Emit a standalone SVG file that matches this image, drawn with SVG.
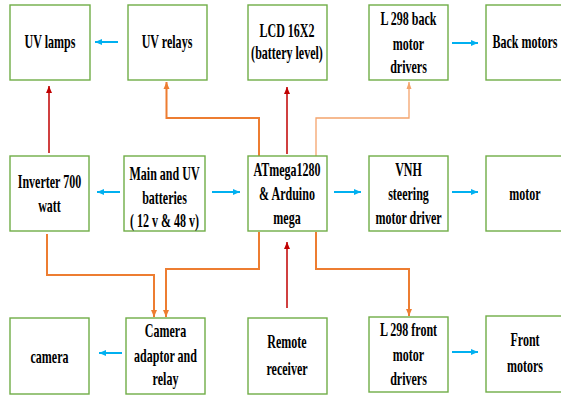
<svg xmlns="http://www.w3.org/2000/svg" width="561" height="396" viewBox="0 0 561 396">
<style>
.b{fill:#fff;stroke:#70ad47;stroke-width:1.4}
.t{font-family:"Liberation Serif","Times New Roman",serif;font-weight:bold;font-size:18.5px;fill:#000;text-anchor:middle}
.bl{stroke:#00b0f0;stroke-width:2;fill:none}
.rd{stroke:#c00000;stroke-width:1.5;fill:none}
.or{stroke:#ed7d31;stroke-width:2;fill:none}
.ol{stroke:#f4a46c;stroke-width:1.3;fill:none}
</style>
<defs>
<marker id="ab" markerUnits="userSpaceOnUse" markerWidth="8" markerHeight="8" refX="7" refY="4" orient="auto"><path d="M0,1 L7,4 L0,7 Z" fill="#00b0f0"/></marker>
<marker id="ar" markerUnits="userSpaceOnUse" markerWidth="8" markerHeight="8" refX="7" refY="4" orient="auto"><path d="M0,1 L7,4 L0,7 Z" fill="#c00000"/></marker>
<marker id="ao" markerUnits="userSpaceOnUse" markerWidth="8" markerHeight="8" refX="7" refY="4" orient="auto"><path d="M0,1 L7,4 L0,7 Z" fill="#ed7d31"/></marker>
<marker id="al" markerUnits="userSpaceOnUse" markerWidth="8" markerHeight="8" refX="7" refY="4" orient="auto"><path d="M0,1.5 L7,4 L0,6.5 Z" fill="#f4a46c"/></marker>
</defs>
<rect width="561" height="396" fill="#fff"/>
<g id="connectors">
<path class="bl" d="M118,42 H95" marker-end="url(#ab)"/>
<path class="bl" d="M452,43 H478" marker-end="url(#ab)"/>
<path class="bl" d="M120,192 H97" marker-end="url(#ab)"/>
<path class="bl" d="M212,192 H240" marker-end="url(#ab)"/>
<path class="bl" d="M334,192 H361" marker-end="url(#ab)"/>
<path class="bl" d="M452,192 H478" marker-end="url(#ab)"/>
<path class="bl" d="M122,353 H99" marker-end="url(#ab)"/>
<path class="bl" d="M452,352 H478" marker-end="url(#ab)"/>
<path class="rd" d="M49,153 V86" marker-end="url(#ar)"/>
<path class="rd" d="M287,154 V87" marker-end="url(#ar)"/>
<path class="rd" d="M287,308 V242" marker-end="url(#ar)"/>
<path class="or" d="M259,156 V118 H166.5 V82" marker-end="url(#ao)"/>
<path class="ol" d="M316,156 V118 H409 V82" marker-end="url(#al)"/>
<path class="or" d="M47,234 V275 H154 V317" marker-end="url(#ao)"/>
<path class="or" d="M259,232 V269 H166 V317" marker-end="url(#ao)"/>
<path class="or" d="M316,232 V269 H409 V316" marker-end="url(#ao)"/>
</g>
<g id="uv-lamps"><rect class="b" x="10" y="5" width="80" height="75"/><text class="t" transform="translate(50,0) scale(.65,1)"><tspan x="0" y="48">UV lamps</tspan></text></g>
<g id="uv-relays"><rect class="b" x="128" y="5" width="79" height="75"/><text class="t" transform="translate(167,0) scale(.65,1)"><tspan x="0" y="48">UV relays</tspan></text></g>
<g id="lcd"><rect class="b" x="248" y="5" width="79" height="75"/><text class="t" transform="translate(287,0) scale(.65,1)"><tspan x="0" y="37">LCD 16X2</tspan><tspan x="0" y="59">(battery level)</tspan></text></g>
<g id="l298-back"><rect class="b" x="369" y="5" width="79" height="75"/><text class="t" transform="translate(408.5,0) scale(.65,1)"><tspan x="0" y="25">L 298 back</tspan><tspan x="0" y="50">motor</tspan><tspan x="0" y="73">drivers</tspan></text></g>
<g id="back-motors"><rect class="b" x="486" y="5" width="80" height="75"/><text class="t" transform="translate(525,0) scale(.65,1)"><tspan x="0" y="48">Back motors</tspan></text></g>
<g id="inverter"><rect class="b" x="10" y="156" width="79" height="75"/><text class="t" transform="translate(49.5,0) scale(.65,1)"><tspan x="0" y="188">Inverter 700</tspan><tspan x="0" y="212">watt</tspan></text></g>
<g id="batteries"><rect class="b" x="124" y="156" width="81" height="75"/><text class="t" transform="translate(164.5,0) scale(.65,1)"><tspan x="0" y="180">Main and UV</tspan><tspan x="0" y="204">batteries</tspan><tspan x="0" y="227">( 12 v &amp; 48 v)</tspan></text></g>
<g id="atmega"><rect class="b" x="248" y="156" width="79" height="75"/><text class="t" transform="translate(287,0) scale(.65,1)"><tspan x="0" y="176">ATmega1280</tspan><tspan x="0" y="200">&amp; Arduino</tspan><tspan x="0" y="224">mega</tspan></text></g>
<g id="vnh"><rect class="b" x="369" y="156" width="79" height="75"/><text class="t" transform="translate(408.5,0) scale(.65,1)"><tspan x="0" y="176">VNH</tspan><tspan x="0" y="200">steering</tspan><tspan x="0" y="224">motor driver</tspan></text></g>
<g id="motor"><rect class="b" x="486" y="156" width="80" height="75"/><text class="t" transform="translate(525,0) scale(.65,1)"><tspan x="0" y="200">motor</tspan></text></g>
<g id="camera"><rect class="b" x="10" y="318" width="79" height="76"/><text class="t" transform="translate(49.5,0) scale(.65,1)"><tspan x="0" y="363">camera</tspan></text></g>
<g id="camera-adaptor"><rect class="b" x="126" y="318" width="79" height="76"/><text class="t" transform="translate(165.5,0) scale(.65,1)"><tspan x="0" y="337">Camera</tspan><tspan x="0" y="362">adaptor and</tspan><tspan x="0" y="385">relay</tspan></text></g>
<g id="remote"><rect class="b" x="248" y="318" width="79" height="76"/><text class="t" transform="translate(287,0) scale(.65,1)"><tspan x="0" y="348">Remote</tspan><tspan x="0" y="375">receiver</tspan></text></g>
<g id="l298-front"><rect class="b" x="369" y="317" width="79" height="75"/><text class="t" transform="translate(408.5,0) scale(.65,1)"><tspan x="0" y="336">L 298 front</tspan><tspan x="0" y="361">motor</tspan><tspan x="0" y="385">drivers</tspan></text></g>
<g id="front-motors"><rect class="b" x="486" y="316" width="80" height="76"/><text class="t" transform="translate(525,0) scale(.65,1)"><tspan x="0" y="346">Front</tspan><tspan x="0" y="372">motors</tspan></text></g>
</svg>
